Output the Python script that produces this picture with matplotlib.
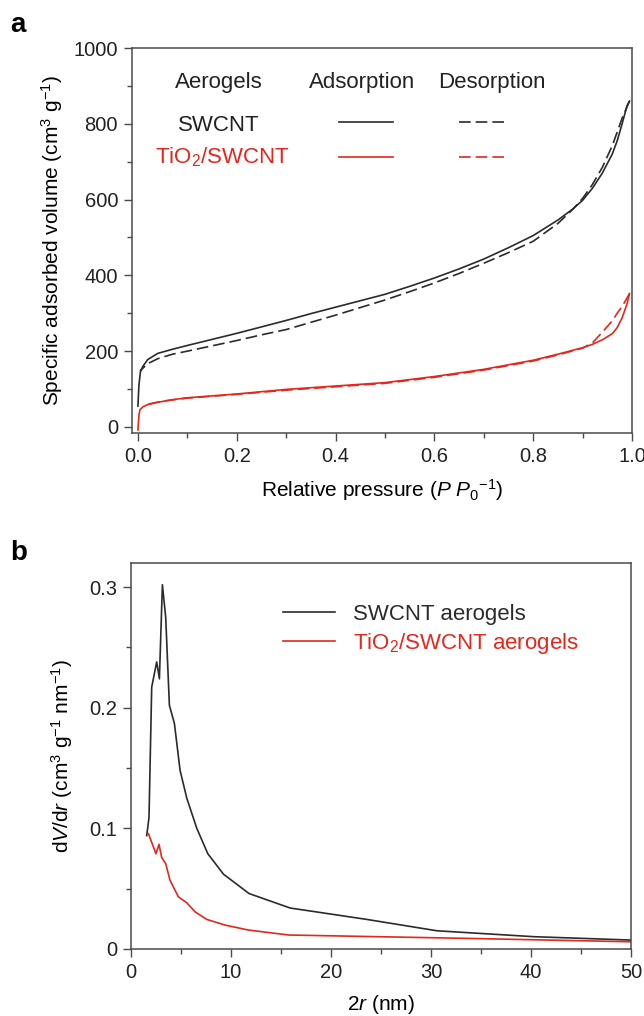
import matplotlib
matplotlib.use("Agg")
import matplotlib.pyplot as plt
from matplotlib.lines import Line2D
from matplotlib.ticker import MultipleLocator

plt.rcParams["font.family"] = ["Liberation Sans", "DejaVu Sans"]
plt.rcParams["mathtext.fontset"] = "custom"
plt.rcParams["mathtext.rm"] = "Liberation Sans"
plt.rcParams["mathtext.it"] = "Liberation Sans:italic"
plt.rcParams["axes.unicode_minus"] = True

BLACK = "#2b2b2b"
RED = "#e2271d"
SPINE = "#4a4a4a"

# ---- panel a: N2 isotherms (relative pressure, adsorbed volume) ----
swcnt_ads_p = [0.0, 0.002, 0.005, 0.01, 0.02, 0.04, 0.07, 0.1, 0.15, 0.2, 0.25, 0.3,
               0.35, 0.4, 0.45, 0.5, 0.55, 0.6, 0.65, 0.7, 0.75, 0.8, 0.85, 0.88,
               0.9, 0.92, 0.94, 0.96, 0.97, 0.98, 0.99, 0.995]
swcnt_ads_v = [55, 110, 145, 160, 178, 194, 205, 215, 231, 247, 264, 281,
               299, 316, 333, 350, 371, 393, 417, 443, 473, 505, 546, 575,
               598, 630, 670, 720, 755, 800, 848, 860]

swcnt_des_p = [0.995, 0.99, 0.98, 0.97, 0.96, 0.94, 0.92, 0.9, 0.88, 0.85, 0.8,
               0.75, 0.7, 0.65, 0.6, 0.55, 0.5, 0.45, 0.4, 0.35, 0.3, 0.25, 0.2,
               0.15, 0.1, 0.07, 0.04, 0.02, 0.01, 0.004]
swcnt_des_v = [860, 845, 815, 778, 742, 685, 640, 603, 574, 537, 490,
               460, 432, 405, 380, 357, 335, 315, 295, 276, 257, 243, 228,
               214, 200, 192, 180, 167, 155, 148]

tio2_ads_p = [0.0, 0.002, 0.004, 0.01, 0.02, 0.04, 0.07, 0.1, 0.15, 0.2, 0.3, 0.4,
              0.5, 0.6, 0.7, 0.8, 0.85, 0.9, 0.92, 0.94, 0.96, 0.97, 0.98, 0.99,
              0.995]
tio2_ads_v = [-8, 30, 45, 53, 59, 65, 72, 77, 82, 87, 99, 108,
              117, 133, 152, 176, 192, 209, 218, 230, 246, 262, 288, 325,
              352]

tio2_des_p = [0.995, 0.98, 0.97, 0.96, 0.94, 0.92, 0.9, 0.85, 0.8, 0.7, 0.6, 0.5,
              0.4, 0.3, 0.2, 0.1, 0.05, 0.02]
tio2_des_v = [352, 318, 300, 280, 250, 222, 208, 190, 174, 150, 131, 115,
              106, 97, 86, 76, 68, 60]

# ---- panel b: pore size distribution (2r in nm, dV/dr) ----
swcnt_psd_x = [1.57, 1.8, 2.07, 2.57, 2.84, 3.14, 3.47, 3.84, 4.34, 4.91, 5.58,
               6.58, 7.68, 9.25, 11.8, 15.9, 23.6, 30.6, 40.3, 50.0]
swcnt_psd_y = [0.094, 0.109, 0.217, 0.238, 0.224, 0.302, 0.275, 0.202, 0.187,
               0.148, 0.125, 0.100, 0.079, 0.062, 0.046, 0.034, 0.0245, 0.0151,
               0.0102, 0.0074]

tio2_psd_x = [1.74, 2.5, 2.8, 3.07, 3.47, 3.9, 4.74, 5.58, 6.41, 7.58, 9.42,
              11.75, 15.76, 33.6, 50.0]
tio2_psd_y = [0.0956, 0.079, 0.0868, 0.0758, 0.0708, 0.057, 0.0432, 0.0383,
              0.0308, 0.0245, 0.0198, 0.0157, 0.0116, 0.0088, 0.006]

DASH = (7, 3)
LW = 1.2
TICK_FS = 14.5
LABEL_FS = 15
TEXT_FS = 16


def style_axes(ax):
    for s in ax.spines.values():
        s.set_color(SPINE)
        s.set_linewidth(1.1)
    ax.tick_params(which="both", direction="out", top=False, right=False,
                   color=SPINE, width=1.0, labelsize=TICK_FS, labelcolor="#222222")
    ax.tick_params(which="major", length=6, pad=4)
    ax.tick_params(which="minor", length=3.5)


fig = plt.figure(figsize=(6.44, 10.16), dpi=100)

# panel a
ax1 = fig.add_axes([132 / 644, 1 - 433 / 1016, 500 / 644, 385 / 1016])
ax1.plot(swcnt_ads_p, swcnt_ads_v, color=BLACK, lw=LW)
ax1.plot(swcnt_des_p, swcnt_des_v, color=BLACK, lw=LW, dashes=DASH)
ax1.plot(tio2_ads_p, tio2_ads_v, color=RED, lw=LW)
ax1.plot(tio2_des_p, tio2_des_v, color=RED, lw=LW, dashes=DASH)
ax1.set_xlim(-0.012, 1.0)
ax1.set_ylim(-16, 1000)
ax1.xaxis.set_major_locator(MultipleLocator(0.2))
ax1.xaxis.set_minor_locator(MultipleLocator(0.1))
ax1.yaxis.set_major_locator(MultipleLocator(200))
ax1.yaxis.set_minor_locator(MultipleLocator(100))
ax1.xaxis.set_major_formatter(plt.FuncFormatter(lambda v, p: f"{v:.1f}"))
style_axes(ax1)
ax1.set_xlabel("Relative pressure ($\\mathit{P}$ $\\mathit{P}_0$$^{-1}$)",
               fontsize=LABEL_FS, labelpad=8)
ax1.set_ylabel("Specific adsorbed volume (cm$^3$ g$^{-1}$)", fontsize=LABEL_FS,
               labelpad=6)

# header / key table in panel a
tr = ax1.transAxes
ax1.text(0.174, 0.895, "Aerogels", transform=tr, ha="center", va="baseline",
         fontsize=TEXT_FS, color="#222222")
ax1.text(0.46, 0.895, "Adsorption", transform=tr, ha="center", va="baseline",
         fontsize=TEXT_FS, color="#222222")
ax1.text(0.72, 0.895, "Desorption", transform=tr, ha="center", va="baseline",
         fontsize=TEXT_FS, color="#222222")
ax1.text(0.174, 0.784, "SWCNT", transform=tr, ha="center", va="baseline",
         fontsize=TEXT_FS, color="#222222")
ax1.text(0.18, 0.70, "TiO$_2$/SWCNT", transform=tr, ha="center", va="baseline",
         fontsize=TEXT_FS, color=RED)
for y, c in [(0.808, BLACK), (0.717, RED)]:
    ax1.add_line(Line2D([0.414, 0.522], [y, y], transform=tr, color=c, lw=LW))
    ax1.add_line(Line2D([0.654, 0.754], [y, y], transform=tr, color=c, lw=LW,
                        dashes=DASH))

# panel b
ax2 = fig.add_axes([131 / 644, 1 - 949 / 1016, 500 / 644, 386 / 1016])
ax2.plot(swcnt_psd_x, swcnt_psd_y, color=BLACK, lw=LW, label="SWCNT aerogels")
ax2.plot(tio2_psd_x, tio2_psd_y, color=RED, lw=LW, label="TiO$_2$/SWCNT aerogels")
ax2.set_xlim(0, 50)
ax2.set_ylim(0, 0.32)
ax2.xaxis.set_major_locator(MultipleLocator(10))
ax2.xaxis.set_minor_locator(MultipleLocator(5))
ax2.yaxis.set_major_locator(MultipleLocator(0.1))
ax2.yaxis.set_minor_locator(MultipleLocator(0.05))
ax2.yaxis.set_major_formatter(plt.FuncFormatter(lambda v, p: "0" if v == 0 else f"{v:.1f}"))
style_axes(ax2)
ax2.set_xlabel("2$\\mathit{r}$ (nm)", fontsize=LABEL_FS, labelpad=8)
ax2.set_ylabel("d$\\mathit{V}$/d$\\mathit{r}$ (cm$^3$ g$^{-1}$ nm$^{-1}$)",
               fontsize=LABEL_FS, labelpad=10)
ax2.legend(loc="upper left", bbox_to_anchor=(0.304, 0.895), frameon=False,
           fontsize=TEXT_FS, handlelength=2.35, handletextpad=0.8,
           labelspacing=0.3, borderpad=0, borderaxespad=0,
           labelcolor="linecolor")

fig.text(10 / 644, 1 - 32 / 1016, "a", fontsize=20, fontweight="bold")
fig.text(10 / 644, 1 - 560 / 1016, "b", fontsize=20, fontweight="bold")

fig.savefig("out.png", dpi=100, facecolor="white")
